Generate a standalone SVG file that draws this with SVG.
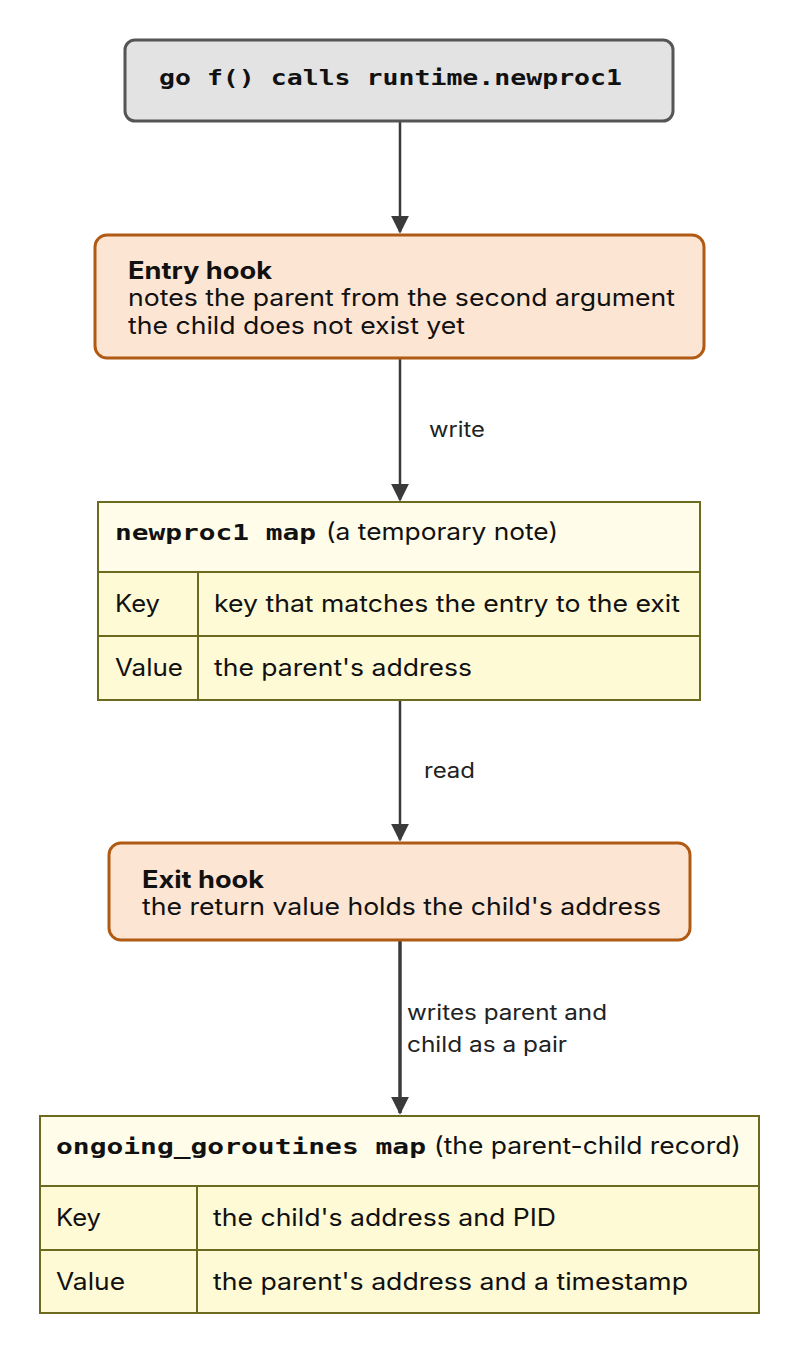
<svg xmlns="http://www.w3.org/2000/svg" width="800" height="1354" viewBox="0 0 800 1354">
<style>
.t{font-family:Inter,"Noto Sans",sans-serif;font-size:24px;fill:#111}
.b{font-weight:bold}
.m{font-family:"DejaVu Sans Mono","Liberation Mono",monospace;font-weight:bold;font-size:22px;fill:#111}
.l{font-family:Inter,"Noto Sans",sans-serif;font-size:21px;fill:#222}
.hook{fill:#fde5d3;stroke:#b05a14;stroke-width:3}
.hdr{fill:#fffdea;stroke:#6b6a1e;stroke-width:2}
.row{fill:#fffad6;stroke:#6b6a1e;stroke-width:2}
.c{stroke:#3a3a3a;stroke-width:2.5;fill:none}
</style>
<defs><marker id="ah" viewBox="0 0 10 10" refX="9" refY="5" markerWidth="18" markerHeight="26" orient="auto" markerUnits="userSpaceOnUse"><path d="M0,0L10,5L0,10z" fill="#3a3a3a"/></marker></defs>
<g id="connectors">
<path class="c" d="M400,121V232" marker-end="url(#ah)"/>
<path class="c" d="M400,358V500" marker-end="url(#ah)"/>
<text class="l" x="429" y="437" textLength="56" lengthAdjust="spacingAndGlyphs">write</text>
<path class="c" d="M400,700V840" marker-end="url(#ah)"/>
<text class="l" x="424" y="778" textLength="51" lengthAdjust="spacingAndGlyphs">read</text>
<path class="c" style="stroke-width:3.5" d="M400,940V1113" marker-end="url(#ah)"/>
<text class="l" x="407" y="1020" textLength="200" lengthAdjust="spacingAndGlyphs">writes parent and</text>
<text class="l" x="407" y="1052" textLength="160" lengthAdjust="spacingAndGlyphs">child as a pair</text>
</g>
<g id="start"><rect x="125" y="40" width="548" height="81" rx="10" fill="#e3e3e3" stroke="#555" stroke-width="3"/>
<text class="m" x="159" y="85" textLength="463" lengthAdjust="spacingAndGlyphs">go f() calls runtime.newproc1</text></g>
<g id="entry"><rect class="hook" x="95" y="235" width="609" height="123" rx="12"/>
<text class="t b" x="128" y="279" textLength="144" lengthAdjust="spacingAndGlyphs">Entry hook</text>
<text class="t" x="128" y="306" textLength="547" lengthAdjust="spacingAndGlyphs">notes the parent from the second argument</text>
<text class="t" x="128" y="334" textLength="337" lengthAdjust="spacingAndGlyphs">the child does not exist yet</text></g>
<g id="newproc1map">
<rect class="hdr" x="98" y="502" width="602" height="70"/>
<rect class="row" x="98" y="572" width="602" height="64"/>
<rect class="row" x="98" y="636" width="602" height="64"/>
<path d="M198,572V700" stroke="#6b6a1e" stroke-width="2"/>
<text class="m" x="115" y="540" textLength="201" lengthAdjust="spacingAndGlyphs">newproc1 map</text>
<text class="t" x="326" y="540" textLength="232" lengthAdjust="spacingAndGlyphs">(a temporary note)</text>
<text class="t" x="115" y="612" textLength="45" lengthAdjust="spacingAndGlyphs">Key</text><text class="t" x="214" y="612" textLength="466" lengthAdjust="spacingAndGlyphs">key that matches the entry to the exit</text>
<text class="t" x="115" y="676" textLength="68" lengthAdjust="spacingAndGlyphs">Value</text><text class="t" x="214" y="676" textLength="258" lengthAdjust="spacingAndGlyphs">the parent's address</text></g>
<g id="exit"><rect class="hook" x="109" y="843" width="581" height="97" rx="12"/>
<text class="t b" x="142" y="888" textLength="122" lengthAdjust="spacingAndGlyphs">Exit hook</text>
<text class="t" x="142" y="915" textLength="519" lengthAdjust="spacingAndGlyphs">the return value holds the child's address</text></g>
<g id="ongoing">
<rect class="hdr" x="40" y="1116" width="719" height="70"/>
<rect class="row" x="40" y="1186" width="719" height="64"/>
<rect class="row" x="40" y="1250" width="719" height="63"/>
<path d="M197,1186V1313" stroke="#6b6a1e" stroke-width="2"/>
<text class="m" x="56" y="1154" textLength="370" lengthAdjust="spacingAndGlyphs">ongoing_goroutines map</text>
<text class="t" x="434" y="1154" textLength="307" lengthAdjust="spacingAndGlyphs">(the parent-child record)</text>
<text class="t" x="56" y="1226" textLength="45" lengthAdjust="spacingAndGlyphs">Key</text><text class="t" x="213" y="1226" textLength="343" lengthAdjust="spacingAndGlyphs">the child's address and PID</text>
<text class="t" x="56" y="1290" textLength="69" lengthAdjust="spacingAndGlyphs">Value</text><text class="t" x="213" y="1290" textLength="475" lengthAdjust="spacingAndGlyphs">the parent's address and a timestamp</text></g>
</svg>
